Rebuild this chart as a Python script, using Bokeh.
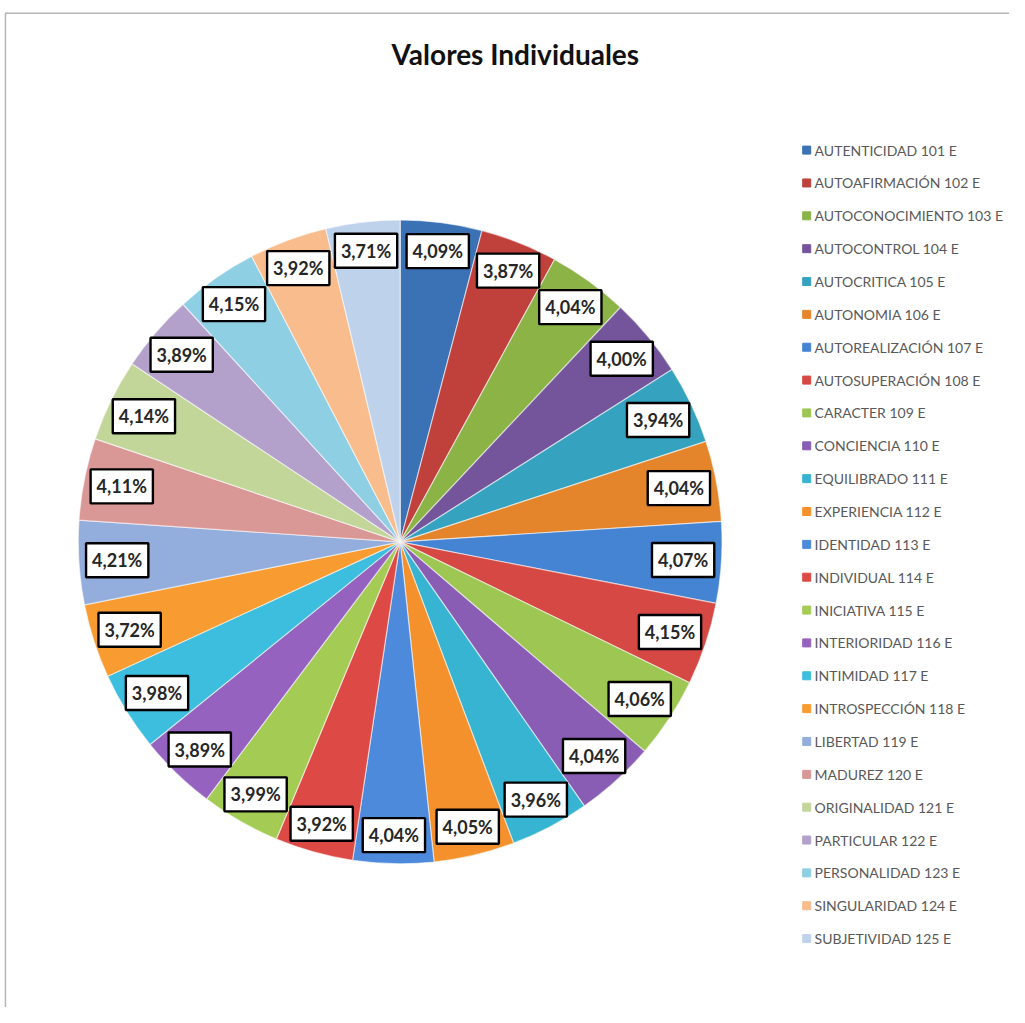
import numpy as np
from bokeh.plotting import figure
from bokeh.models import Range1d, ColumnDataSource
from bokeh.embed import file_html
from bokeh.resources import INLINE
from bokeh.core.properties import value

# ---------------- data ----------------
categories = [
    "AUTENTICIDAD 101 E", "AUTOAFIRMACIÓN 102 E", "AUTOCONOCIMIENTO 103 E",
    "AUTOCONTROL 104 E", "AUTOCRITICA 105 E", "AUTONOMIA 106 E",
    "AUTOREALIZACIÓN 107 E", "AUTOSUPERACIÓN  108 E", "CARACTER 109 E",
    "CONCIENCIA 110 E", "EQUILIBRADO 111 E", "EXPERIENCIA 112 E",
    "IDENTIDAD 113 E", "INDIVIDUAL 114 E", "INICIATIVA 115 E",
    "INTERIORIDAD 116 E", "INTIMIDAD 117 E", "INTROSPECCIÓN 118 E",
    "LIBERTAD 119 E", "MADUREZ 120 E", "ORIGINALIDAD 121 E",
    "PARTICULAR 122 E", "PERSONALIDAD 123 E", "SINGULARIDAD 124 E",
    "SUBJETIVIDAD 125 E",
]
percentages = [
    4.09, 3.87, 4.04, 4.00, 3.94, 4.04, 4.07, 4.15, 4.06, 4.04, 3.96, 4.05,
    4.04, 3.92, 3.99, 3.89, 3.98, 3.72, 4.21, 4.11, 4.14, 3.89, 4.15, 3.92,
    3.71,
]
colors = [
    "#3A72B5", "#C0403C", "#8BB346", "#74559C", "#35A2BF", "#E5852B",
    "#4584D3", "#D64843", "#9DC652", "#8A5DB5", "#38B4D3", "#F5912C",
    "#4D8ADB", "#DD4A45", "#A4CC55", "#9562C0", "#3EBEDE", "#F89B30",
    "#93AEDC", "#D99795", "#C2D69A", "#B3A1CC", "#8FCFE3", "#F9BC8C",
    "#BFD2EC",
]
title_text = "Valores Individuales"

# ---------------- layout ----------------
W, H = 1009, 1007            # canvas pixels
VW, VH = 1025, 1023          # drawing coordinate space
p = figure(width=W, height=H, output_backend="svg", toolbar_location=None,
           x_range=Range1d(0, VW), y_range=Range1d(-VH, 0),
           x_axis_location=None, y_axis_location=None, min_border=0)
p.grid.visible = False
p.outline_line_color = None
p.background_fill_color = "white"
p.border_fill_color = "white"

# chart area frame
p.line(x=[5, 5, VW], y=[-VH, -13, -13], line_color="#b4b4b4", line_width=1.5)

cx, cy, R = 406, -550, 327

vals = np.array(percentages, dtype=float)
frac = vals / vals.sum()
cum = np.concatenate([[0.0], np.cumsum(frac)])
start = np.pi / 2 - 2 * np.pi * cum[:-1]
end = np.pi / 2 - 2 * np.pi * cum[1:]
mid = (start + end) / 2
r_lab = 288 + 10 * np.sin(mid) ** 2
lx = cx + r_lab * np.cos(mid)
ly = cy + r_lab * np.sin(mid)
labels = [("%.2f" % v).replace(".", ",") + "%" for v in percentages]

src = ColumnDataSource(dict(start=start, end=end, color=colors, lx=lx, ly=ly,
                            lab=labels, name=categories))

p.wedge(x=cx, y=cy, radius=R, start_angle="start", end_angle="end",
        direction="clock", fill_color="color", line_color="white",
        line_alpha=0.55, line_width=1.2, source=src)

p.text(x="lx", y="ly", text="lab", source=src, text_align="center",
       text_baseline="middle", text_font=value("Lato"), text_font_style="bold",
       text_font_size="18px", text_color="#262626",
       background_fill_color="white", border_line_color="black",
       border_line_width=2.4, padding=6)

# legend
n = len(categories)
leg_y = -(152 + 33.375 * np.arange(n))
leg_src = ColumnDataSource(dict(y=leg_y, color=colors, name=categories))
p.scatter(x=819, y="y", marker="square", size=8, fill_color="color",
          line_color="color", source=leg_src)
p.text(x=827, y="y", text="name", source=leg_src, text_align="left",
       text_baseline="middle", text_font=value("Lato"), text_font_size="14px",
       text_color="#595959")

# title
p.text(x=[523], y=[-54], text=[title_text], text_align="center",
       text_baseline="middle", text_font=value("Lato"), text_font_style="bold",
       text_font_size="28px", text_color="#111111")

open("out.html", "w").write(file_html(p, INLINE))
